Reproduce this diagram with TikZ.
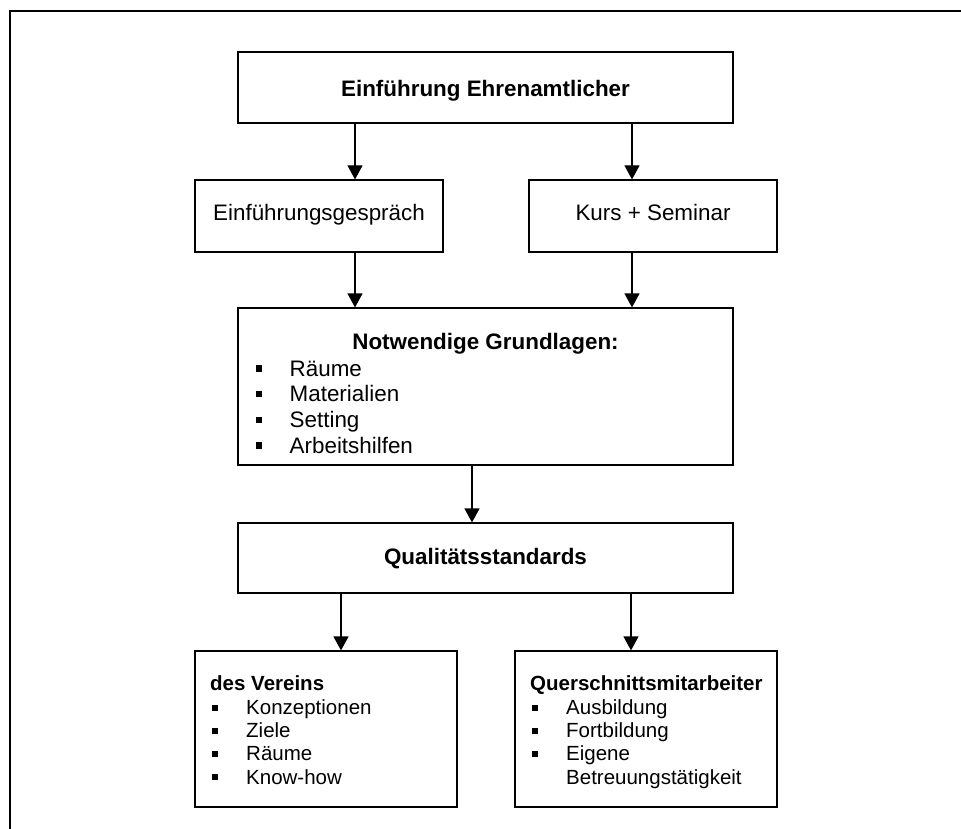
\documentclass[tikz,border=0pt]{standalone}
\usepackage{fontspec}
\setmainfont{Liberation Sans}
\usetikzlibrary{arrows.meta}
\tikzset{
  box/.style={draw, line width=1.2pt, rectangle, inner sep=0pt},
  boxtext/.style={font=\fontsize{22.4}{25.8}\selectfont, inner sep=0pt},
  boxhead/.style={font=\fontsize{22.4}{25.8}\selectfont\bfseries, inner sep=0pt},
  smalltext/.style={font=\fontsize{20.5}{23.2}\selectfont, inner sep=0pt},
  smallhead/.style={font=\fontsize{20.5}{23.2}\selectfont\bfseries, inner sep=0pt},
  flow/.style={-{Triangle[width=15pt,length=14pt]}, line width=1.2pt},
  bulletmark/.style={fill, minimum size=6.5pt, inner sep=0pt},
}
\begin{document}
\begin{tikzpicture}[x=1pt,y=-1pt]
    \useasboundingbox (0,0) rectangle (961,829);
    % outer frame
    \draw[line width=2pt] (10,829) -- (10,11) -- (961,11);

    % boxes
    \node[box, minimum width=495pt, minimum height=71pt] (einf) at (485.5,87.5) {};
    \node[box, minimum width=248pt, minimum height=72pt] (gespr) at (319,216) {};
    \node[box, minimum width=248pt, minimum height=72pt] (kurs) at (653,216) {};
    \node[box, minimum width=495pt, minimum height=157pt] (grund) at (485.5,386.5) {};
    \node[box, minimum width=495pt, minimum height=70pt] (qual) at (485.5,558) {};
    \node[box, minimum width=262pt, minimum height=156pt] (verein) at (326,729) {};
    \node[box, minimum width=262pt, minimum height=156pt] (quer) at (646,729) {};

    % texts
    \node[boxhead, anchor=base] (einf-t) at (485.5,97) {Einführung Ehrenamtlicher};
    \node[boxtext, anchor=base] (gespr-t) at (319,220.7) {Einführungsgespräch};
    \node[boxtext, anchor=base] (kurs-t) at (653,220.7) {Kurs + Seminar};
    \node[boxhead, anchor=base] (grund-t) at (485.5,349) {Notwendige Grundlagen:};
    \foreach \txt [count=\i] in {Räume, Materialien, Setting, Arbeitshilfen} {
        \node[bulletmark] (grund-b\i) at (259,{368.5+25.7*(\i-1)}) {};
        \node[boxtext, anchor=base west] (grund-i\i) at (289.5,{376+25.7*(\i-1)}) {\txt};
    }
    \node[boxhead, anchor=base] (qual-t) at (485.5,564) {Qualitätsstandards};

    \node[smallhead, anchor=base west] (verein-t) at (210,690.5) {des Vereins};
    \foreach \txt [count=\i] in {Konzeptionen, Ziele, Räume, Know-how} {
        \node[bulletmark, minimum size=6pt] (verein-b\i) at (215,{707.5+23.2*(\i-1)}) {};
        \node[smalltext, anchor=base west] (verein-i\i) at (246,{714.5+23.2*(\i-1)}) {\txt};
    }
    \node[smallhead, anchor=base west] (quer-t) at (530,690.5) {Querschnittsmitarbeiter};
    \foreach \i in {1,2,3} {
        \node[bulletmark, minimum size=6pt] (quer-b\i) at (535,{707.5+23.2*(\i-1)}) {};
    }
    \foreach \txt [count=\i] in {Ausbildung, Fortbildung, Eigene, Betreuungstätigkeit} {
        \node[smalltext, anchor=base west] (quer-i\i) at (566,{714.5+23.2*(\i-1)}) {\txt};
    }

    % arrows
    \coordinate (xl) at (355,0);
    \coordinate (xr) at (632,0);
    \coordinate (xm) at (472,0);
    \coordinate (xbl) at (341,0);
    \coordinate (xbr) at (631,0);
    \draw[flow] (einf.south -| xl) -- (gespr.north -| xl);
    \draw[flow] (einf.south -| xr) -- (kurs.north -| xr);
    \draw[flow] (gespr.south -| xl) -- (grund.north -| xl);
    \draw[flow] (kurs.south -| xr) -- (grund.north -| xr);
    \draw[flow] (grund.south -| xm) -- (qual.north -| xm);
    \draw[flow] (qual.south -| xbl) -- (verein.north -| xbl);
    \draw[flow] (qual.south -| xbr) -- (quer.north -| xbr);
\end{tikzpicture}
\end{document}
